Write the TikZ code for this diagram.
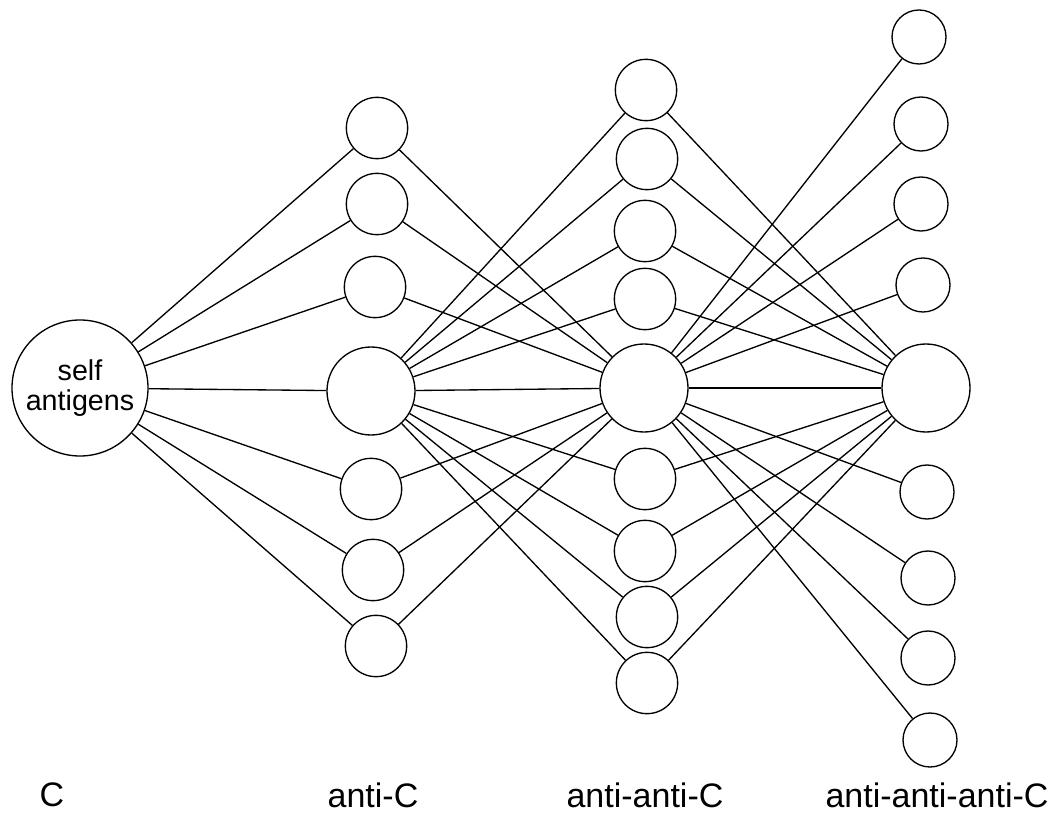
\documentclass[tikz,border=0pt]{standalone}
\usepackage{fontspec}
\setmainfont{Liberation Sans}
\begin{document}
\begin{tikzpicture}[x=0.75pt,y=-0.75pt,
  line width=1pt,
  antigen/.style={shape=circle,draw,line width=1pt,minimum size=102pt,inner sep=0pt,align=center,font=\fontsize{21.5}{22.5}\selectfont},
  hub/.style={shape=circle,draw,line width=1pt,minimum size=66pt,inner sep=0pt},
  clone/.style={shape=circle,draw,line width=1pt,minimum size=46pt,inner sep=0pt},
  tip/.style={shape=circle,draw,line width=1pt,minimum size=40.5pt,inner sep=0pt},
  level/.style={font=\fontsize{25.5}{28}\selectfont}]
\useasboundingbox (0,0) rectangle (1055,816);
% C
\node(c) at (80,388)[antigen] {self\\antigens};
% anti-C
\node(a1) at (377,128)[clone] {};
\node(a2) at (377,204)[clone] {};
\node(a3) at (375,287)[clone] {};
\node(a4) at (371,391)[hub]   {};
\node(a5) at (371,489)[clone] {};
\node(a6) at (373,570)[clone] {};
\node(a7) at (376,646)[clone] {};
% anti-anti-C
\node(b1) at (646,90)[clone]  {};
\node(b2) at (647,159)[clone] {};
\node(b3) at (645,231)[clone] {};
\node(b4) at (645,299)[clone] {};
\node(b5) at (644,388)[hub]   {};
\node(b6) at (645,479)[clone] {};
\node(b7) at (645,551)[clone] {};
\node(b8) at (647,617)[clone] {};
\node(b9) at (647,683)[clone] {};
% anti-anti-anti-C
\node(d1) at (919,37)[tip]  {};
\node(d2) at (921,124)[tip] {};
\node(d3) at (921,204)[tip] {};
\node(d4) at (923,285)[tip] {};
\node(d5) at (926,388)[hub] {};
\node(d6) at (927,492)[tip] {};
\node(d7) at (928,578)[tip] {};
\node(d8) at (928,658)[tip] {};
\node(d9) at (930,740)[tip] {};
% column labels
\node(lc) at (52,795)[level]  {C};
\node(la) at (373,795)[level] {anti-C};
\node(lb) at (645,795)[level] {anti-anti-C};
\node(ld) at (937,795)[level] {anti-anti-anti-C};
\path [-]
  (c)      edge      (a1)
  (c)      edge      (a2)
  (c)      edge      (a3)
  (c)      edge      (a4)
  (c)      edge      (a5)
  (c)      edge      (a6)
  (c)      edge      (a7)
  (a1)     edge      (b5)
  (a2)     edge      (b5)
  (a3)     edge      (b5)
  (a5)     edge      (b5)
  (a6)     edge      (b5)
  (a7)     edge      (b5)
  (a4)     edge      (b1)
  (a4)     edge      (b2)
  (a4)     edge      (b3)
  (a4)     edge      (b4)
  (a4)     edge      (b5)
  (a4)     edge      (b6)
  (a4)     edge      (b7)
  (a4)     edge      (b8)
  (a4)     edge      (b9)
  (b1)     edge      (d5)
  (b2)     edge      (d5)
  (b3)     edge      (d5)
  (b4)     edge      (d5)
  (b6)     edge      (d5)
  (b7)     edge      (d5)
  (b8)     edge      (d5)
  (b9)     edge      (d5)
  (b5)     edge      (d1)
  (b5)     edge      (d2)
  (b5)     edge      (d3)
  (b5)     edge      (d4)
  (b5)     edge      (d5)
  (b5)     edge      (d6)
  (b5)     edge      (d7)
  (b5)     edge      (d8)
  (b5)     edge      (d9);
\end{tikzpicture}
\end{document}
